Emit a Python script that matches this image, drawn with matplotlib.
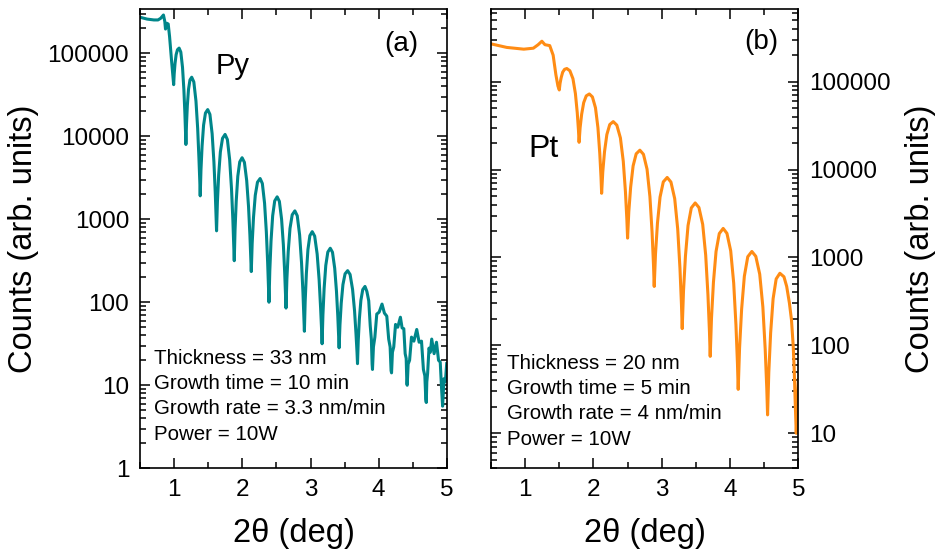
import matplotlib
matplotlib.use("Agg")
import matplotlib.pyplot as plt
from matplotlib import ticker

plt.rcParams['font.family'] = ['Liberation Sans', 'DejaVu Sans']

# ---------------- data ----------------
py_angle = [0.50, 0.60, 0.70, 0.76, 0.80, 0.84, 0.86, 0.87, 0.89, 0.91, 0.93, 0.96, 0.99,
            0.998, 1.01, 1.026, 1.046, 1.07, 1.095, 1.12, 1.14, 1.155, 1.165, 1.17,
            1.1785, 1.191, 1.208, 1.2295, 1.255, 1.286, 1.3175, 1.3425, 1.361, 1.374, 1.38,
            1.391, 1.4075, 1.4295, 1.457, 1.49, 1.5225, 1.555, 1.581, 1.6005, 1.6135, 1.62,
            1.6325, 1.651, 1.676, 1.7075, 1.745, 1.779, 1.8125, 1.8395, 1.8598, 1.873, 1.88,
            1.8915, 1.909, 1.932, 1.9605, 1.995, 2.029, 2.0625, 2.0895, 2.1098, 2.123, 2.13,
            2.143, 2.1625, 2.1885, 2.221, 2.26, 2.2925, 2.325, 2.351, 2.3705, 2.3835, 2.39,
            2.402, 2.42, 2.444, 2.474, 2.51, 2.5425, 2.575, 2.601, 2.6205, 2.6335, 2.64,
            2.653, 2.6725, 2.6985, 2.731, 2.77, 2.805, 2.84, 2.868, 2.889, 2.903, 2.91,
            2.9215, 2.939, 2.962, 2.9905, 3.025, 3.061, 3.0975, 3.1265, 3.148, 3.163, 3.17,
            3.182, 3.20, 3.224, 3.254, 3.29, 3.3225, 3.355, 3.381, 3.4005, 3.4135, 3.42,
            3.4325, 3.451, 3.476, 3.5075, 3.545, 3.581, 3.6175, 3.6465, 3.668, 3.683, 3.69,
            3.701, 3.7175, 3.7395, 3.767, 3.80, 3.8275, 3.855, 3.877, 3.8935, 3.9045, 3.91,
            3.924, 3.945, 3.973, 4.008, 4.05, 4.085, 4.12, 4.148, 4.169, 4.183, 4.19,
            4.203, 4.2225, 4.2485, 4.281, 4.32, 4.345, 4.37, 4.39, 4.405, 4.415, 4.42,
            4.434, 4.455, 4.483, 4.518, 4.56, 4.595, 4.63, 4.658, 4.679, 4.693, 4.70,
            4.708, 4.72, 4.74, 4.76, 4.78, 4.815, 4.85, 4.88, 4.905, 4.925, 4.94, 4.96, 4.98, 5.00]
py_counts = [270000, 257000, 251000, 251000, 263000, 288000, 240000, 195000, 229000, 224000, 158000, 79400, 41700,
             56500, 75000, 95700, 110000, 115000, 103000, 67300, 36400, 18700, 10900, 7940,
             13900, 23400, 36600, 47600, 51300, 45000, 26500, 12400, 5470, 2830, 1910,
             3910, 7640, 13600, 19000, 20900, 18300, 10700, 4920, 2120, 1080, 724,
             1610, 3410, 6470, 9420, 10500, 9100, 5200, 2320, 968, 481, 316,
             745, 1660, 3290, 4900, 5500, 4840, 2920, 1420, 643, 342, 234,
             508, 1050, 1940, 2790, 3090, 2690, 1560, 706, 300, 151, 100,
             240, 546, 1100, 1660, 1860, 1640, 1000, 494, 229, 123, 85,
             191, 406, 774, 1130, 1260, 1100, 646, 299, 130, 66.7, 44.7,
             102, 222, 431, 634, 708, 625, 380, 186, 85.5, 45.9, 31.6,
             70, 147, 277, 402, 447, 400, 257, 136, 68.2, 39.3, 28.2,
             53.6, 97.5, 163, 220, 240, 216, 143, 79, 41.5, 24.8, 18.2,
             34.6, 63, 105, 142, 155, 135, 104, 52, 36, 18, 15.5,
             29, 38, 72, 76, 95, 74, 68, 36, 29, 15, 14.1,
             25, 29, 54, 50, 66, 49, 48, 24, 21, 10.5, 10,
             18, 20, 38, 34, 47, 33, 34, 15.5, 13, 6.8, 6.2,
             11, 14, 28, 25, 36, 24, 33, 20, 19, 9, 5.6, 12, 11, 18.2]

pt_angle = [0.50, 0.73, 0.98, 1.12, 1.19, 1.245, 1.29, 1.36, 1.41, 1.45, 1.48, 1.50,
            1.511, 1.5275, 1.5495, 1.577, 1.61, 1.655, 1.70, 1.736, 1.763, 1.781, 1.79,
            1.805, 1.8275, 1.8575, 1.895, 1.94, 1.985, 2.03, 2.066, 2.093, 2.111, 2.12,
            2.137, 2.1625, 2.1965, 2.239, 2.29, 2.3425, 2.395, 2.437, 2.4685, 2.4895, 2.50,
            2.518, 2.545, 2.581, 2.626, 2.68, 2.7325, 2.785, 2.827, 2.8585, 2.8795, 2.89,
            2.909, 2.9375, 2.9755, 3.023, 3.08, 3.135, 3.19, 3.234, 3.267, 3.289, 3.30,
            3.319, 3.3475, 3.3855, 3.433, 3.49, 3.545, 3.60, 3.644, 3.677, 3.699, 3.71,
            3.729, 3.7575, 3.7955, 3.843, 3.90, 3.955, 4.01, 4.054, 4.087, 4.109, 4.12,
            4.14, 4.17, 4.21, 4.26, 4.32, 4.3775, 4.435, 4.481, 4.5155, 4.5385, 4.55,
            4.568, 4.595, 4.631, 4.676, 4.73, 4.79, 4.83, 4.87, 4.90, 4.925, 4.94, 4.955, 4.97, 5.00]
pt_counts = [269000, 245000, 234000, 240000, 263000, 288000, 263000, 257000, 200000, 120000, 89100, 80400,
             95300, 111000, 128000, 138000, 141000, 133000, 108000, 73100, 44300, 27800, 20400,
             29900, 42600, 57700, 68900, 72400, 67000, 50400, 29900, 15200, 8150, 5370,
             9440, 16000, 25000, 32500, 35100, 32000, 22900, 12400, 5620, 2700, 1660,
             3310, 6310, 11000, 15100, 16600, 14900, 10100, 4930, 1950, 828, 468,
             1100, 2450, 4860, 7240, 8130, 7210, 4670, 2110, 755, 292, 155,
             416, 1040, 2310, 3660, 4170, 3700, 2380, 1060, 374, 143, 75,
             205, 524, 1170, 1870, 2140, 1880, 1190, 511, 171, 62.1, 31.6,
             93.5, 258, 612, 1020, 1170, 1030, 646, 274, 89.9, 32.2, 16.2,
             49.3, 139, 339, 570, 661, 603, 468, 302, 195, 100, 52.5, 22.4, 10, 40.7]

py_notes = ["Thickness = 33 nm", "Growth time = 10 min", "Growth rate = 3.3 nm/min", "Power = 10W"]
pt_notes = ["Thickness = 20 nm", "Growth time = 5 min", "Growth rate = 4 nm/min", "Power = 10W"]
x_ticks = [1, 2, 3, 4, 5]

# ---------------- figure ----------------
fig = plt.figure(figsize=(9.36, 5.59), dpi=100)
W, H = 936, 559
ax1 = fig.add_axes([140.3 / W, 1 - 468.3 / H, 306.4 / W, 459.3 / H])
ax2 = fig.add_axes([491.0 / W, 1 - 468.3 / H, 307.3 / W, 459.3 / H])

teal = '#00868A'
orange = '#FF8C14'
ax1.plot(py_angle, py_counts, color=teal, lw=2.2)
ax2.plot(pt_angle, pt_counts, color=orange, lw=2.2)

fmt = ticker.FuncFormatter(lambda v, p: f'{v:.0f}')
for ax, ylim in ((ax1, (1, 3.4e5)), (ax2, (4, 6.7e5))):
    ax.set_yscale('log')
    ax.set_xlim(0.5, 5)
    ax.set_ylim(*ylim)
    ax.set_xticks(x_ticks)
    ax.xaxis.set_minor_locator(ticker.MultipleLocator(0.5))
    ax.yaxis.set_major_locator(ticker.LogLocator(base=10, numticks=20))
    ax.yaxis.set_minor_locator(ticker.LogLocator(base=10, subs=range(2, 10), numticks=20))
    ax.yaxis.set_major_formatter(fmt)
    ax.yaxis.set_minor_formatter(ticker.NullFormatter())
    ax.tick_params(which='both', direction='in', top=True, right=True, left=True, bottom=True,
                   width=1.1, labelsize=17.5, pad=8)
    ax.tick_params(which='major', length=7)
    ax.tick_params(which='minor', length=4)
    for s in ax.spines.values():
        s.set_linewidth(1.2)
    ax.set_xlabel('2θ (deg)', fontsize=23.5, labelpad=12)

ax1.set_ylabel('Counts (arb. units)', fontsize=23.5, labelpad=6)
ax2.tick_params(axis='y', which='both', labelleft=False, labelright=True)
ax2.yaxis.set_label_position('right')
ax2.set_ylabel('Counts (arb. units)', fontsize=23.5, labelpad=10)

ax1.text(0.851, 0.924, '(a)', transform=ax1.transAxes, fontsize=20, ha='center', va='center')
ax2.text(0.881, 0.929, '(b)', transform=ax2.transAxes, fontsize=20, ha='center', va='center')
ax1.text(0.247, 0.858, 'Py', transform=ax1.transAxes, fontsize=21, ha='left', va='baseline')
ax2.text(0.1215, 0.677, 'Pt', transform=ax2.transAxes, fontsize=23, ha='left', va='baseline')

for i, (t1, t2) in enumerate(zip(py_notes, pt_notes)):
    ax1.text(0.045, [0.2264, 0.1720, 0.1176, 0.0616][i], t1, transform=ax1.transAxes,
             fontsize=14.8, ha='left', va='baseline')
    ax2.text(0.051, [0.2155, 0.1617, 0.1066, 0.0507][i], t2, transform=ax2.transAxes,
             fontsize=14.8, ha='left', va='baseline')

fig.savefig('out.png', dpi=100)
